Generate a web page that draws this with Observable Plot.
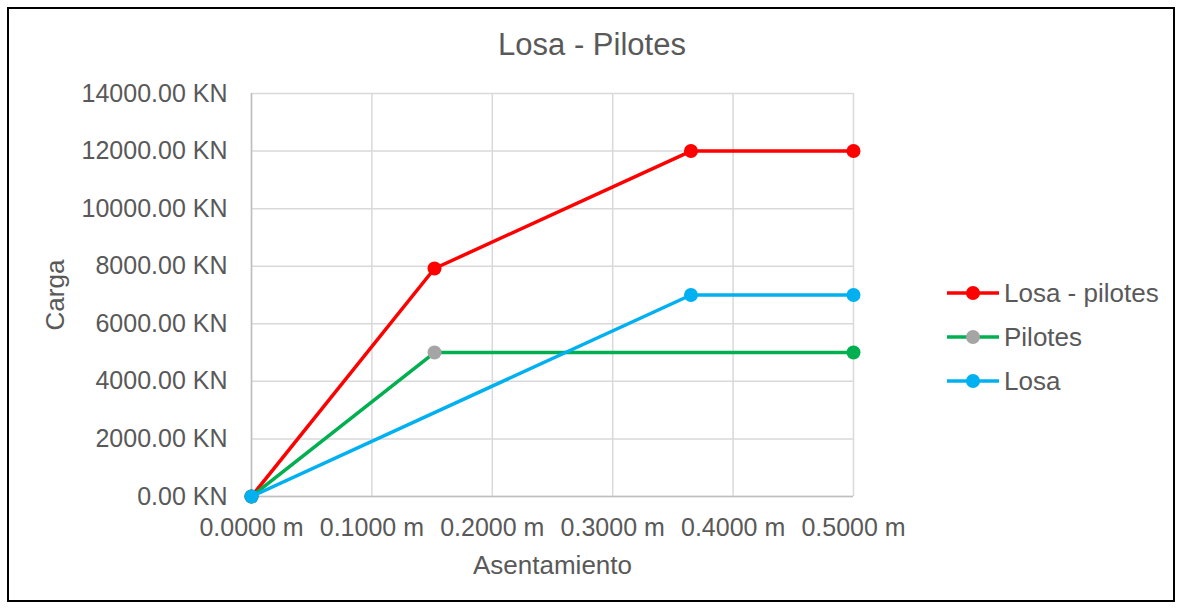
<!DOCTYPE html>
<html>
<head>
<meta charset="utf-8">
<script src="https://cdn.jsdelivr.net/npm/d3@7"></script>
<script src="https://cdn.jsdelivr.net/npm/@observablehq/plot@0.6"></script>
<style>
  html, body { margin: 0; padding: 0; background: #fff; }
  #wrap { position: relative; width: 1184px; height: 611px; font-family: "Liberation Sans", Arial, sans-serif; }
  #border { position: absolute; left: 7px; top: 7px; width: 1168px; height: 595px; border: 2px solid #000; box-sizing: border-box; pointer-events: none; }
  #title { position: absolute; left: 0; width: 1184px; top: 27px; text-align: center; font-size: 31px; line-height: 36px; color: #595959; }
  #legend { position: absolute; left: 946px; top: 271px; font-size: 26px; color: #595959; }
  .row { display: flex; align-items: center; height: 44px; }
  .row svg { margin-right: 4px; }
  #chart { position: absolute; left: 0; top: 0; }
</style>
</head>
<body>
<div id="wrap">
  <div id="chart"></div>
  <div id="title">Losa - Pilotes</div>
  <div id="legend"></div>
  <div id="border"></div>
</div>
<script>
// Data
const seriesNames = ["Losa - pilotes", "Pilotes", "Losa"];
const lineColors = ["#FF0000", "#00B050", "#00B0F0"];

const losaPilotesX = [0, 0.152, 0.365, 0.5];
const losaPilotesY = [0, 7920, 12000, 12000];

const pilotesX = [0, 0.152, 0.5];
const pilotesY = [0, 5000, 5000];
const pilotesMarker = ["#00B050", "#A5A5A5", "#00B050"];

const losaX = [0, 0.365, 0.5];
const losaY = [0, 7000, 7000];

const xTicks = [0, 0.1, 0.2, 0.3, 0.4, 0.5];
const yTicks = [0, 2000, 4000, 6000, 8000, 10000, 12000, 14000];

const rows = [];
losaPilotesX.forEach((x, i) => rows.push({s: seriesNames[0], x, y: losaPilotesY[i], m: lineColors[0]}));
pilotesX.forEach((x, i) => rows.push({s: seriesNames[1], x, y: pilotesY[i], m: pilotesMarker[i]}));
losaX.forEach((x, i) => rows.push({s: seriesNames[2], x, y: losaY[i], m: lineColors[2]}));

const marks = [
  Plot.gridX(xTicks, {stroke: "#D9D9D9", strokeOpacity: 1, strokeWidth: 1.5}),
  Plot.gridY(yTicks, {stroke: "#D9D9D9", strokeOpacity: 1, strokeWidth: 1.5}),
  Plot.ruleX([0], {stroke: "#BFBFBF", strokeWidth: 1.5}),
  Plot.ruleY([0], {stroke: "#BFBFBF", strokeWidth: 1.5}),
  Plot.axisX(xTicks, {tickSize: 0, tickPadding: 22, fontSize: 25, fill: "#595959", tickFormat: d => d3.format(".4f")(d) + " m",
    label: "Asentamiento", labelAnchor: "center", labelArrow: "none", labelOffset: 77}),
  Plot.axisY(yTicks, {tickSize: 0, tickPadding: 24, fontSize: 25, fill: "#595959", tickFormat: d => d3.format(".2f")(d) + " KN",
    label: "Carga", labelAnchor: "center", labelArrow: "none", labelOffset: 206})
];
seriesNames.forEach((name, k) => {
  const d = rows.filter(r => r.s === name);
  marks.push(Plot.line(d, {x: "x", y: "y", stroke: lineColors[k], strokeWidth: 3.5}));
  marks.push(Plot.dot(d, {x: "x", y: "y", r: 7, fill: "m", stroke: "none"}));
});

const chart = Plot.plot({
  width: 1184,
  height: 611,
  marginLeft: 251,
  marginRight: 331,
  marginTop: 93,
  marginBottom: 115,
  x: {domain: [0, 0.5]},
  y: {domain: [0, 14000]},
  color: {type: "identity"},
  style: {fontFamily: "Liberation Sans, Arial, sans-serif", fontSize: "25px", color: "#595959", background: "transparent"},
  marks
});
chart.querySelectorAll("[aria-label='x-axis label'] text, [aria-label='y-axis label'] text").forEach(t => t.setAttribute("font-size", "26"));
document.getElementById("chart").appendChild(chart);

// legend
const legend = document.getElementById("legend");
const legendMarker = ["#FF0000", "#A5A5A5", "#00B0F0"];
seriesNames.forEach((name, k) => {
  const row = document.createElement("div");
  row.className = "row";
  row.innerHTML = `<svg width="54" height="16"><line x1="1" y1="8" x2="53" y2="8" stroke="${lineColors[k]}" stroke-width="3.5"/><circle cx="27" cy="8" r="7" fill="${legendMarker[k]}"/></svg><span>${name}</span>`;
  legend.appendChild(row);
});
</script>
</body>
</html>
